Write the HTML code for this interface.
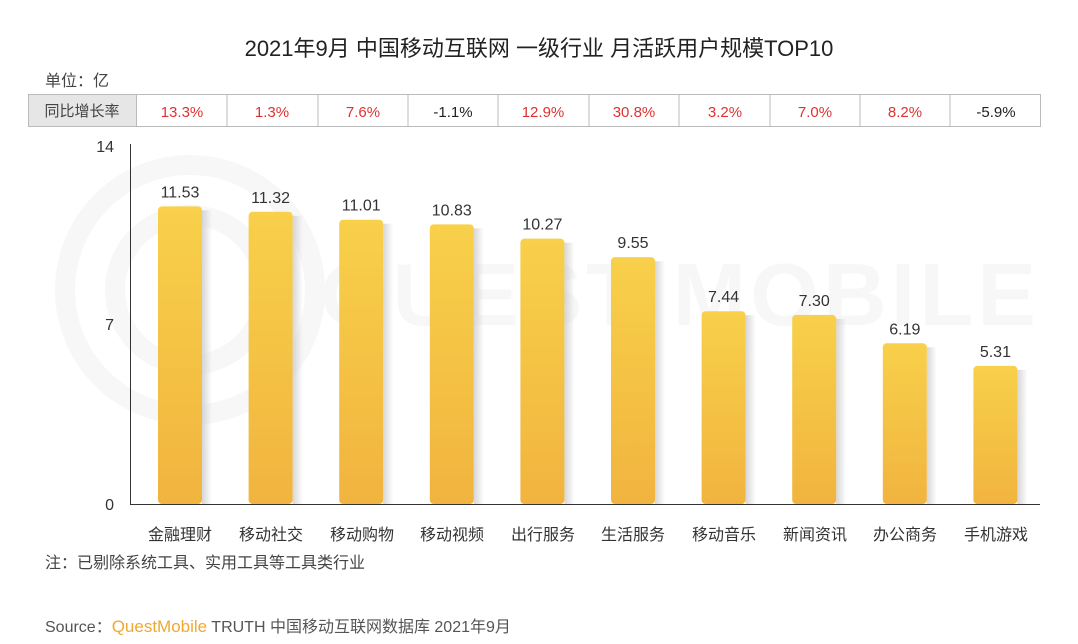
<!DOCTYPE html>
<html><head><meta charset="utf-8"><style>
body{margin:0;width:1078px;height:644px;background:#fff;overflow:hidden;font-family:"Liberation Sans","Noto Sans CJK SC",sans-serif;position:relative;color:#333}
</style></head><body>
<svg width="1078" height="644" style="position:absolute;left:0;top:0" font-family="Liberation Sans, Noto Sans CJK SC, sans-serif">
<defs><linearGradient id="g" x1="0" y1="0" x2="0" y2="1"><stop offset="0" stop-color="#f8d04a"/><stop offset="1" stop-color="#f1b43f"/></linearGradient>
<linearGradient id="s" x1="0" y1="0" x2="1" y2="0"><stop offset="0" stop-color="#ccc" stop-opacity=".8"/><stop offset="1" stop-color="#ccc" stop-opacity="0"/></linearGradient></defs>
<g fill="none" stroke="#f7f7f7" stroke-width="20"><circle cx="190" cy="290" r="125"/><circle cx="190" cy="290" r="75"/></g>
<text x="320" y="325" font-size="88" fill="#f7f7f7" font-weight="bold" letter-spacing="4" textLength="720">QUEST MOBILE</text>
<text x="539" y="56" font-size="22" text-anchor="middle" fill="#222">2021年9月 中国移动互联网 一级行业 月活跃用户规模TOP10</text>
<text x="45" y="86" font-size="16" fill="#444">单位：亿</text>
<rect x="28.5" y="94.5" width="1012" height="32" fill="#fff" stroke="#bbb"/>
<rect x="28.5" y="94.5" width="108" height="32" fill="#e6e6e6" stroke="#bbb"/>
<text x="82" y="116" font-size="15" text-anchor="middle" fill="#444">同比增长率</text>
<g stroke="#bbb">
<line x1="227" y1="94" x2="227" y2="127"/><line x1="318" y1="94" x2="318" y2="127"/><line x1="408" y1="94" x2="408" y2="127"/><line x1="498" y1="94" x2="498" y2="127"/><line x1="589" y1="94" x2="589" y2="127"/><line x1="679" y1="94" x2="679" y2="127"/><line x1="770" y1="94" x2="770" y2="127"/><line x1="860" y1="94" x2="860" y2="127"/><line x1="950" y1="94" x2="950" y2="127"/>
</g>
<g font-size="15" text-anchor="middle" fill="#e03131">
<text x="182" y="117">13.3%</text><text x="272" y="117">1.3%</text><text x="363" y="117">7.6%</text><text x="453" y="117" fill="#222">-1.1%</text><text x="543" y="117">12.9%</text><text x="634" y="117">30.8%</text><text x="725" y="117">3.2%</text><text x="815" y="117">7.0%</text><text x="905" y="117">8.2%</text><text x="996" y="117" fill="#222">-5.9%</text>
</g>
<line x1="130.5" y1="144" x2="130.5" y2="504" stroke="#333"/>
<line x1="130" y1="504.5" x2="1040" y2="504.5" stroke="#333"/>
<g font-size="16" text-anchor="end" fill="#333"><text x="114" y="152">14</text><text x="114" y="330">7</text><text x="114" y="510">0</text></g>
<g id="bars"></g>
<g font-size="16" text-anchor="middle" fill="#333">
<text x="180" y="540">金融理财</text><text x="271" y="540">移动社交</text><text x="362" y="540">移动购物</text><text x="452" y="540">移动视频</text><text x="543" y="540">出行服务</text><text x="633" y="540">生活服务</text><text x="724" y="540">移动音乐</text><text x="815" y="540">新闻资讯</text><text x="905" y="540">办公商务</text><text x="996" y="540">手机游戏</text>
</g>
<text x="45" y="568" font-size="16" fill="#444">注：已剔除系统工具、实用工具等工具类行业</text>
<text x="45" y="632" font-size="16" fill="#555">Source：<tspan fill="#f0a830" font-size="17">QuestMobile</tspan> TRUTH 中国移动互联网数据库 2021年9月</text>
</svg>
<script>
var v=[11.53,11.32,11.01,10.83,10.27,9.55,7.44,7.30,6.19,5.31],h='';
for(var i=0;i<10;i++){var cx=180+i*90.6,t=504-v[i]*25.64-2;
h+='<rect x="'+(cx+22)+'" y="'+(t+4)+'" width="10" height="'+(500-t)+'" fill="url(#s)"/>';
h+='<rect x="'+(cx-22)+'" y="'+t+'" width="44" height="'+(504-t)+'" rx="4" fill="url(#g)"/>';
h+='<text x="'+cx+'" y="'+(t-9)+'" font-size="16" text-anchor="middle" fill="#333">'+v[i].toFixed(2)+'</text>';}
document.getElementById('bars').innerHTML=h;
</script>
</body></html>
